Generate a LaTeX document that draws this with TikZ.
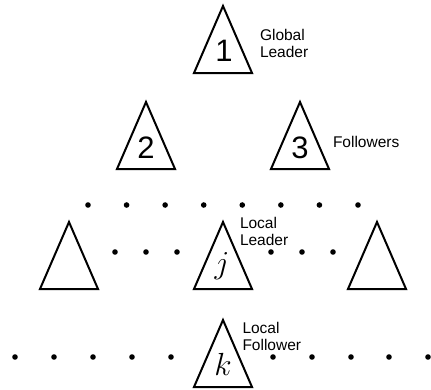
\RequirePackage{fix-cm}
\documentclass[tikz,border=0pt]{standalone}
\usepackage{fontspec}
\setmainfont{Liberation Sans}
\begin{document}
\begin{tikzpicture}[x=1pt, y=-1pt, line width=2pt, line join=miter,
  % hierarchy member: apex at the pic origin
  tri/.pic={\draw (0,0) -- (-29,67) -- (29,67) -- cycle;},
  num/.style={font=\fontsize{31}{31}\selectfont, inner sep=0pt, anchor=base},
  var/.style={font=\fontsize{32}{32}\selectfont, inner sep=0pt, anchor=base},
  lbl/.style={font=\fontsize{15.5}{17}\selectfont, align=left, inner sep=0pt, anchor=north west},
  pt/.style={radius=2.8}]
\useasboundingbox (0,0) rectangle (431,389);

% global leader
\pic at (223,6) {tri};
\node[num] (n1) at (224,61.5) {1};
\node[lbl] (gl) at (259,28) {Global\\Leader};

% followers
\pic at (146,102) {tri};
\node[num] (n2) at (146,158.5) {2};
\pic at (300,102) {tri};
\node[num] (n3) at (300,158.5) {3};
\node[lbl] (fl) at (332,135) {Followers};

% first row of dots
\foreach \i in {0,...,7}
  \fill[pt] (88+\i*38.57,205) circle;

% local leaders
\pic at (69,222) {tri};
\pic at (223,222) {tri};
\pic at (377,222) {tri};
\node[var] (j) at (222,273) {$j$};
\node[lbl] (ll) at (239,216.5) {Local\\Leader};
\foreach \x in {115,146,177,271,302,333}
  \fill[pt] (\x,252) circle;

% local follower
\pic at (223,320) {tri};
\node[var] (k) at (223,375) {$k$};
\node[lbl] (lf) at (241.5,321.5) {Local\\Follower};
\foreach \x in {15,54,93,132,171,273,312,351,389,428}
  \fill[pt] (\x,357) circle;
\end{tikzpicture}
\end{document}
